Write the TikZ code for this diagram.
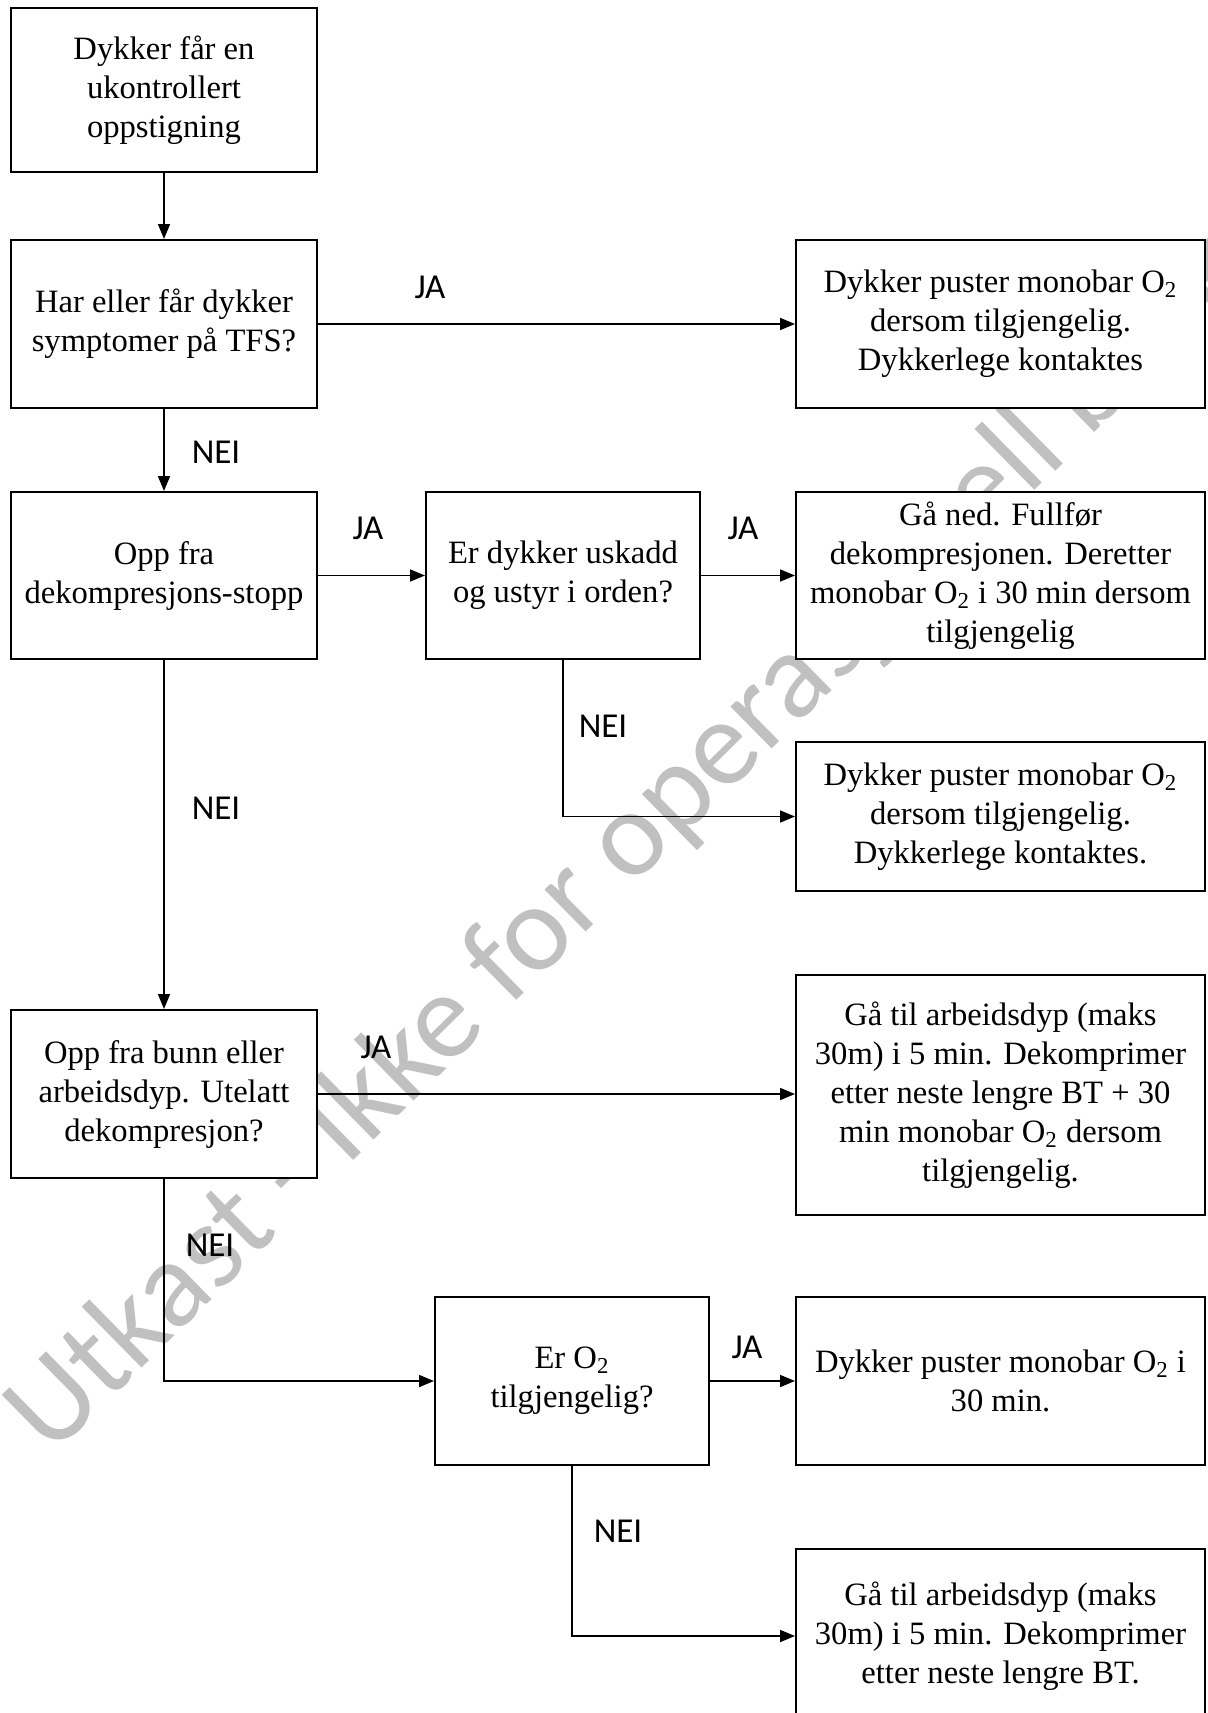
\documentclass[tikz,border=0pt]{standalone}
\usepackage{fontspec}
\setmainfont{Liberation Serif}
\newfontfamily\labfont{Carlito}
\usetikzlibrary{arrows.meta}
\definecolor{wmgray}{RGB}{192,192,192}
\tikzset{
  box/.style={draw=black, line width=1pt, fill=white, rectangle, align=center, inner sep=0pt,
    font=\fontsize{16.3}{19.5}\selectfont},
  arr/.style={draw=black, line width=0.85pt, -{Triangle[length=7.5pt,width=6pt]}},
  lbl/.style={font=\labfont\fontsize{17.5}{20}\selectfont, inner sep=0pt},
  wmark/.style={font=\labfont\fontsize{61.5}{66}\selectfont, text=wmgray, inner sep=0pt}
}
\begin{document}
\begin{tikzpicture}[x=0.5pt,y=-0.5pt]
\useasboundingbox (0,0) rectangle (1208,1713);
\clip (0,0) rectangle (1208,1713);
% watermark
\node[wmark, anchor=base west, rotate=44.5] (wm) at (51,1458) {Utkast - Ikke for operasjonell bruk};
% boxes
\node[box, minimum width=153pt, minimum height=82pt] (b1) at (164,90) {Dykker får en\\ukontrollert\\oppstigning};
\node[box, minimum width=153pt, minimum height=84pt] (b2) at (164,324) {Har eller får dykker\\symptomer på TFS?};
\node[box, minimum width=204.5pt, minimum height=84pt] (b3) at (1000.5,324) {Dykker puster monobar O\textsubscript{2}\\dersom tilgjengelig.\\Dykkerlege kontaktes};
\node[box, minimum width=153pt, minimum height=83.5pt] (b4) at (164,575.5) {Opp fra\\dekompresjons-stopp};
\node[box, minimum width=137pt, minimum height=83.5pt] (b5) at (563,575.5) {Er dykker uskadd\\og ustyr i orden?};
\node[box, minimum width=204.5pt, minimum height=83.5pt] (b6) at (1000.5,575.5) {Gå ned. Fullfør\\dekompresjonen. Deretter\\monobar O\textsubscript{2} i 30 min dersom\\tilgjengelig};
\node[box, minimum width=204.5pt, minimum height=74.5pt] (b7) at (1000.5,816.5) {Dykker puster monobar O\textsubscript{2}\\dersom tilgjengelig.\\Dykkerlege kontaktes.};
\node[box, minimum width=153pt, minimum height=84pt] (b8) at (164,1094) {Opp fra bunn eller\\arbeidsdyp. Utelatt\\dekompresjon?};
\node[box, minimum width=204.5pt, minimum height=120pt] (b9) at (1000.5,1095) {Gå til arbeidsdyp (maks\\30m) i 5 min. Dekomprimer\\etter neste lengre BT + 30\\min monobar O\textsubscript{2} dersom\\tilgjengelig.};
\node[box, minimum width=137pt, minimum height=84pt] (b10) at (572,1381) {Er O\textsubscript{2}\\tilgjengelig?};
\node[box, minimum width=204.5pt, minimum height=84pt] (b11) at (1000.5,1381) {Dykker puster monobar O\textsubscript{2} i\\30 min.};
\node[box, minimum width=204.5pt, minimum height=87pt] (b12) at (1000.5,1636) {Gå til arbeidsdyp (maks\\30m) i 5 min. Dekomprimer\\etter neste lengre BT.};
% connectors
\draw[arr] (b1) -- (b2);
\draw[arr] (b2) -- (b3);
\draw[arr] (b2) -- (b4);
\draw[arr] (b4) -- (b5);
\draw[arr] (b5) -- (b6);
\draw[arr] (b5.south) |- (b7.west);
\draw[arr] (b4) -- (b8);
\draw[arr] (b8.east) -- (b8.east -| b9.west);
\draw[arr] (b8.south) |- (b10.west);
\draw[arr] (b10) -- (b11);
\draw[arr] (b10.south) |- (b12.west);
% labels
\node[lbl] (l1) at (430,287) {JA};
\node[lbl] (l2) at (216,452) {NEI};
\node[lbl] (l3) at (368,528) {JA};
\node[lbl] (l4) at (743,528) {JA};
\node[lbl] (l5) at (603,726) {NEI};
\node[lbl] (l6) at (216,808) {NEI};
\node[lbl] (l7) at (376,1047) {JA};
\node[lbl] (l8) at (210,1245) {NEI};
\node[lbl] (l9) at (747,1347) {JA};
\node[lbl] (l10) at (618,1531) {NEI};
\end{tikzpicture}
\end{document}
